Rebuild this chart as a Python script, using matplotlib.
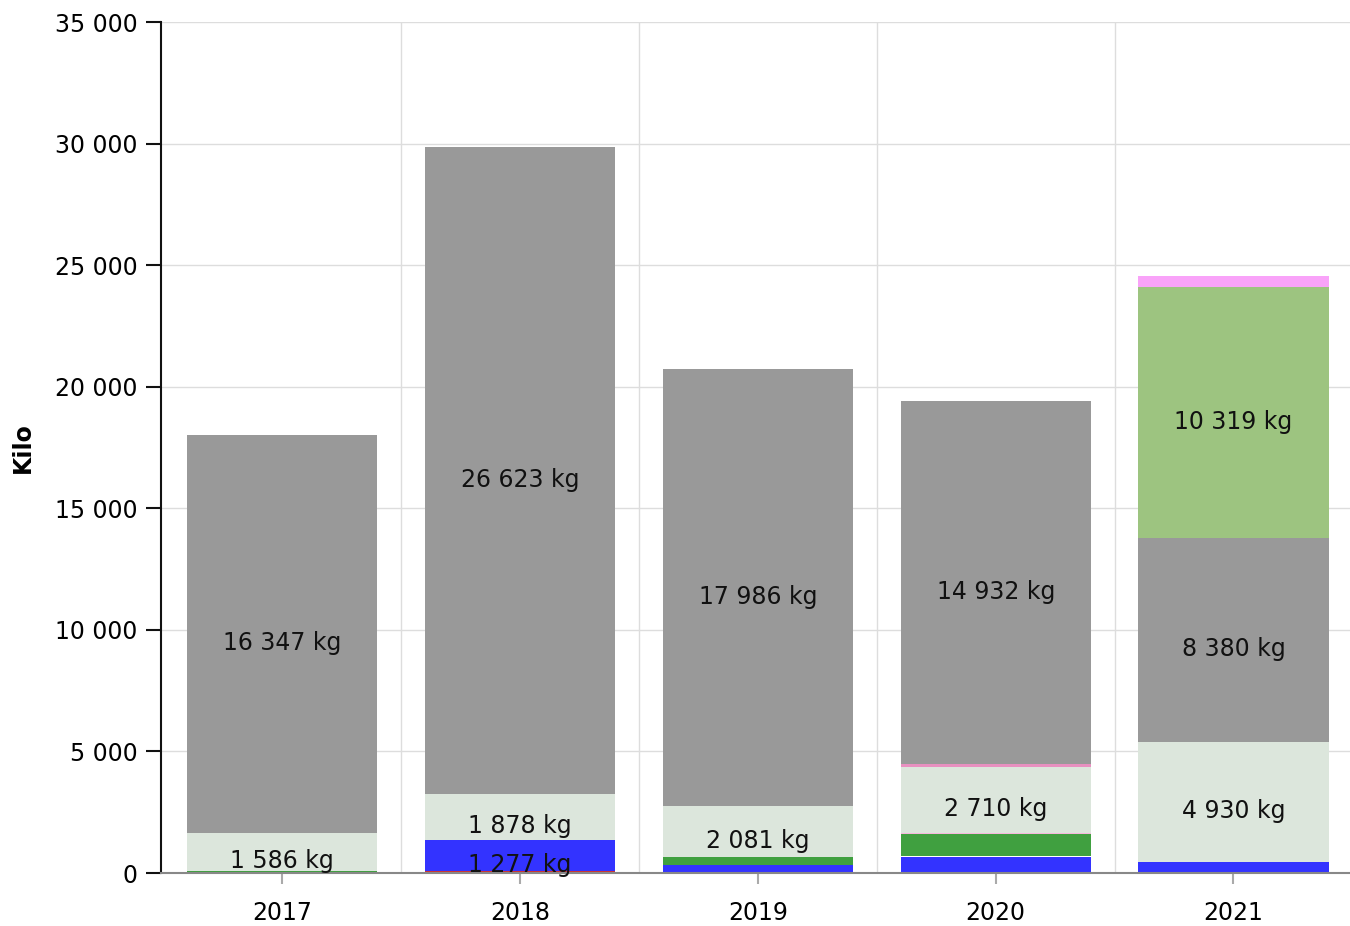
import matplotlib
matplotlib.use("Agg")
import matplotlib.pyplot as plt
from matplotlib.ticker import FuncFormatter, FixedLocator
import numpy as np

years = ["2017", "2018", "2019", "2020", "2021"]

red = [0, 80, 0, 0, 0]
blue = [0, 1277, 350, 650, 465]
white_gap = [0, 0, 0, 50, 0]
green = [80, 0, 310, 900, 0]
pink_low = [0, 0, 0, 45, 0]
light = [1586, 1878, 2081, 2710, 4930]
pink_mid = [0, 0, 0, 110, 0]
grey = [16347, 26623, 17986, 14932, 8380]
lightgreen = [0, 0, 0, 0, 10319]
pink_top = [0, 0, 0, 0, 450]

series = [
    (red, "#cc3333"),
    (blue, "#3333ff"),
    (white_gap, "#ffffff"),
    (green, "#40a040"),
    (pink_low, "#f7b8dc"),
    (light, "#dce6dc"),
    (pink_mid, "#e890c0"),
    (grey, "#999999"),
    (lightgreen, "#9dc480"),
    (pink_top, "#f9a3f9"),
]

fig = plt.figure(figsize=(13.5, 9.26), dpi=100)
ax = fig.add_axes([0.1193, 0.0572, 0.8807, 0.919])

x = np.arange(len(years))
bottom = np.zeros(len(years))
fs = 17
for vals, col in series:
    v = np.array(vals, dtype=float)
    ax.bar(x, v, width=0.8, bottom=bottom, color=col, zorder=2, linewidth=0)
    for i, val in enumerate(v):
        if val >= 1000:
            ax.annotate(f"{int(val):,}".replace(",", " ") + " kg",
                        (x[i], bottom[i] + val / 2), xytext=(0, -6.5),
                        textcoords="offset points", ha="center", va="center",
                        fontsize=fs, color="#111111", zorder=3)
    bottom += v

ax.set_xlim(-0.51, 4.49)
ax.set_ylim(0, 35000)
ax.set_yticks(np.arange(0, 35001, 5000))
ax.yaxis.set_major_formatter(FuncFormatter(lambda v, p: f"{int(v):,}".replace(",", " ")))
ax.set_xticks(x)
ax.set_xticklabels(years)
ax.xaxis.set_minor_locator(FixedLocator([0.5, 1.5, 2.5, 3.5]))

ax.grid(axis="y", which="major", color="#dddddd", linewidth=1, zorder=0)
ax.grid(axis="x", which="minor", color="#dddddd", linewidth=1, zorder=0)
ax.set_axisbelow(True)

for s in ["top", "right"]:
    ax.spines[s].set_visible(False)
ax.spines["left"].set_color("#111111")
ax.spines["left"].set_linewidth(1.5)
ax.spines["bottom"].set_color("#888888")
ax.spines["bottom"].set_linewidth(1.5)

ax.tick_params(axis="y", length=11, width=1.5, color="#111111", labelsize=fs, pad=6)
ax.tick_params(axis="x", which="major", length=8, width=1.5, color="#aaaaaa", labelsize=fs, pad=12)
ax.tick_params(axis="x", which="minor", length=0)

ax.set_ylabel("Kilo", fontsize=fs, fontweight="bold", labelpad=14)

fig.savefig("out.png", dpi=100)
